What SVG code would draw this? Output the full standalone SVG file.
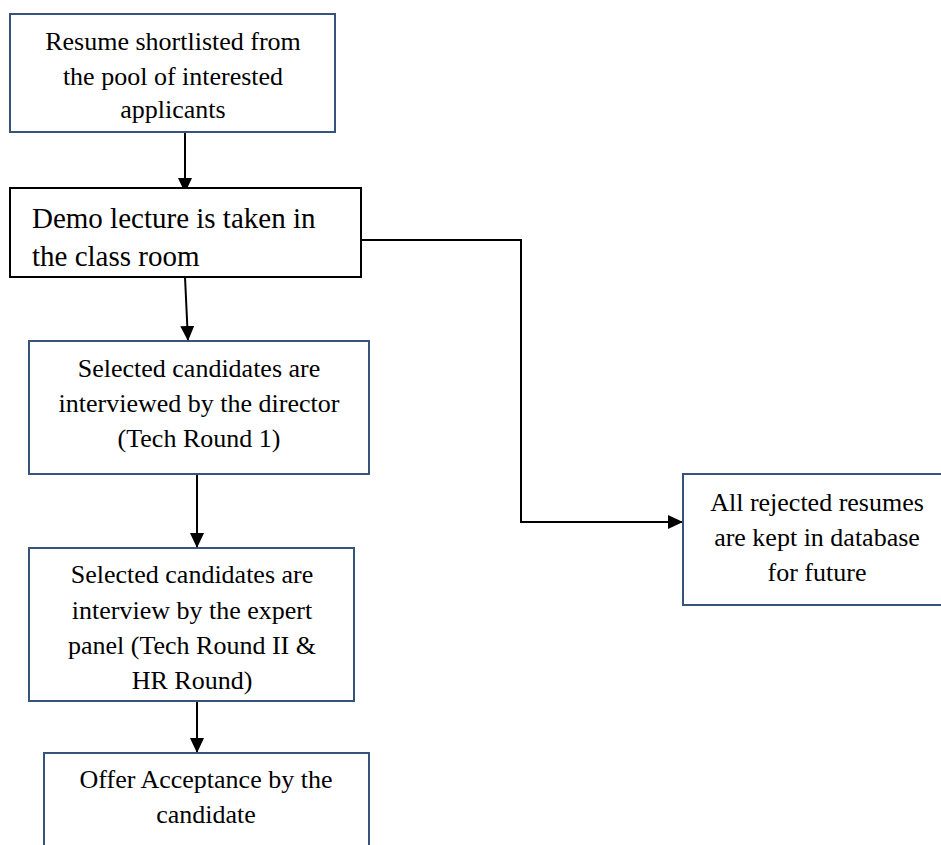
<svg xmlns="http://www.w3.org/2000/svg" width="941" height="845" viewBox="0 0 941 845">
<defs>
<style>
.box{fill:#ffffff;stroke:#36537a;stroke-width:2}
.boxk{fill:#ffffff;stroke:#000000;stroke-width:2}
.t{font-family:"Liberation Serif","Times New Roman",serif;font-size:26px;fill:#000000;text-anchor:middle}
.td{font-family:"Liberation Serif","Times New Roman",serif;font-size:29px;fill:#000000}
.c{fill:none;stroke:#000000;stroke-width:2}
</style>
<marker id="ah" markerUnits="userSpaceOnUse" markerWidth="16" markerHeight="16" viewBox="0 0 16 16" refX="15" refY="8" orient="auto">
<path d="M0,1 L15,8 L0,15 Z" fill="#000000"/>
</marker>
</defs>
<rect width="941" height="845" fill="#ffffff"/>
<g id="connectors">
<line class="c" x1="185" y1="132" x2="185" y2="193" marker-end="url(#ah)"/>
<line class="c" x1="185" y1="277" x2="188" y2="341" marker-end="url(#ah)"/>
<line class="c" x1="197" y1="474" x2="197" y2="548" marker-end="url(#ah)"/>
<line class="c" x1="197" y1="701" x2="197" y2="753" marker-end="url(#ah)"/>
<polyline class="c" points="361,240 521,240 521,522 683,522" marker-end="url(#ah)"/>
</g>
<g id="n1">
<rect class="box" x="10" y="14" width="325" height="118"/>
<text class="t" x="173" y="50">Resume shortlisted from</text>
<text class="t" x="173" y="85">the pool of interested</text>
<text class="t" x="173" y="118">applicants</text>
</g>
<g id="n2">
<rect class="boxk" x="10" y="188" width="351" height="89"/>
<text class="td" x="32" y="228">Demo lecture is taken in</text>
<text class="td" x="32" y="266">the class room</text>
</g>
<g id="n3">
<rect class="box" x="29" y="341" width="340" height="133"/>
<text class="t" x="199" y="377">Selected candidates are</text>
<text class="t" x="199" y="412">interviewed by the director</text>
<text class="t" x="199" y="447">(Tech Round 1)</text>
</g>
<g id="n4">
<rect class="box" x="29" y="548" width="325" height="153"/>
<text class="t" x="192" y="583">Selected candidates are</text>
<text class="t" x="192" y="619">interview by the expert</text>
<text class="t" x="192" y="654">panel (Tech Round II &amp;</text>
<text class="t" x="192" y="689">HR Round)</text>
</g>
<g id="n5">
<rect class="box" x="44" y="753" width="325" height="110"/>
<text class="t" x="206" y="788">Offer Acceptance by the</text>
<text class="t" x="206" y="823">candidate</text>
</g>
<g id="n6">
<rect class="box" x="683" y="474" width="270" height="131"/>
<text class="t" x="817" y="511">All rejected resumes</text>
<text class="t" x="817" y="546">are kept in database</text>
<text class="t" x="817" y="581">for future</text>
</g>
</svg>
